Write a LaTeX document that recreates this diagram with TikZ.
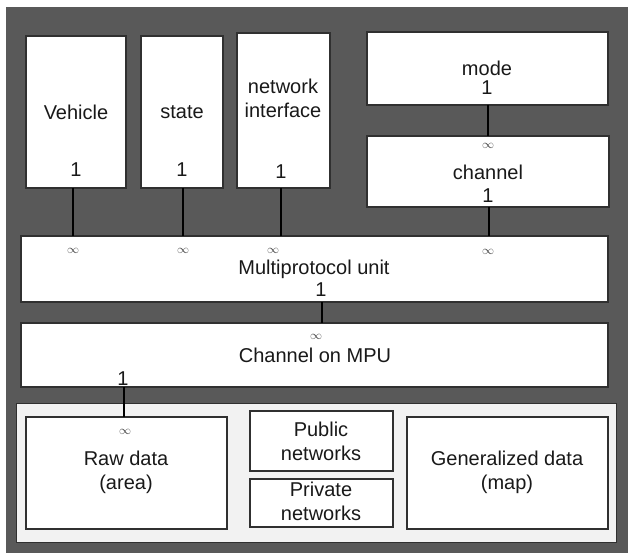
\documentclass[tikz,border=0pt]{standalone}
\usepackage{fontspec}
\setmainfont{Liberation Sans}
\definecolor{bgdark}{HTML}{595959}
\definecolor{grouplight}{HTML}{F2F2F2}
\definecolor{edge}{HTML}{303030}
\begin{document}
\begin{tikzpicture}[x=1pt,y=-1pt,
  box/.style={draw=edge,line width=1.2pt,fill=white},
  lbl/.style={font=\fontsize{20}{24}\selectfont,text=black!90,inner sep=0pt,align=center},
  inf/.style={font=\fontsize{13}{13}\selectfont,text=black!75,inner sep=0pt},
  conn/.style={draw=black,line width=1.3pt}]
\useasboundingbox (0,0) rectangle (628,553);
\fill[white] (0,0) rectangle (628,553);
\fill[bgdark] (6,7) rectangle (628,553);
% bottom light group
\draw[draw=edge,line width=1pt,fill=grouplight] (16,403) rectangle (616,542);
% boxes
\path[box] (26,36) rectangle (126,188);
\coordinate (veh) at (73,188);
\path[box] (141,36) rectangle (223,188);
\coordinate (sta) at (183,188);
\path[box] (237,33) rectangle (330,188);
\coordinate (net) at (281,188);
\path[box] (367,32) rectangle (608,105);
\coordinate (modeB) at (488,105);
\path[box] (367,136) rectangle (609,207);
\coordinate (chT) at (488,136);
\coordinate (chB) at (489,207);
\path[box] (21,236) rectangle (608,302);
\coordinate (mpuT1) at (73,236);
\coordinate (mpuT2) at (183,236);
\coordinate (mpuT3) at (281,236);
\coordinate (mpuT4) at (489,236);
\coordinate (mpuB) at (322,302);
\path[box] (21,323) rectangle (608,387);
\coordinate (cmT) at (322,323);
\coordinate (cmB) at (124,387);
\path[box] (26,417) rectangle (227,529);
\coordinate (rawT) at (124,417);
\path[box] (250,411) rectangle (393,471);
\path[box] (250,479) rectangle (393,527);
\path[box] (407,417) rectangle (608,529);
% connectors
\draw[conn] (veh) -- (mpuT1);
\draw[conn] (sta) -- (mpuT2);
\draw[conn] (net) -- (mpuT3);
\draw[conn] (modeB) -- (chT);
\draw[conn] (chB) -- (mpuT4);
\draw[conn] (mpuB) -- (cmT);
\draw[conn] (cmB) -- (rawT);
% texts
\node[lbl] (tveh) at (76,112) {Vehicle};
\node[lbl] (tveh1) at (76,170) {1};
\node[lbl] (tsta) at (182,112) {state};
\node[lbl] (tsta1) at (182,170) {1};
\node[lbl] (tnet) at (283,98) {network\\interface};
\node[lbl] (tnet1) at (281,172) {1};
\node[lbl] (tmode) at (487,68) {mode};
\node[lbl] (tmode1) at (487,88) {1};
\node[inf] (ich) at (488,146) {$\infty$};
\node[lbl] (tch) at (488,172) {channel};
\node[lbl] (tch1) at (488,196) {1};
\node[inf] (i1) at (73,251) {$\infty$};
\node[inf] (i2) at (183,251) {$\infty$};
\node[inf] (i3) at (273,251) {$\infty$};
\node[inf] (i4) at (488,252) {$\infty$};
\node[lbl] (tmpu) at (314,269) {Multiprotocol unit};
\node[lbl] (tmpu1) at (321,290) {1};
\node[inf] (icm) at (316,337) {$\infty$};
\node[lbl] (tcm) at (315,355) {Channel on MPU};
\node[lbl] (tcm1) at (123,379) {1};
\node[inf] (iraw) at (125,432) {$\infty$};
\node[lbl] (traw) at (126,472) {Raw data\\(area)};
\node[lbl] (tpub) at (321,441) {Public\\networks};
\node[lbl] (tpriv) at (321,501) {Private\\networks};
\node[lbl] (tgen) at (507,472) {Generalized data\\(map)};
\end{tikzpicture}
\end{document}
